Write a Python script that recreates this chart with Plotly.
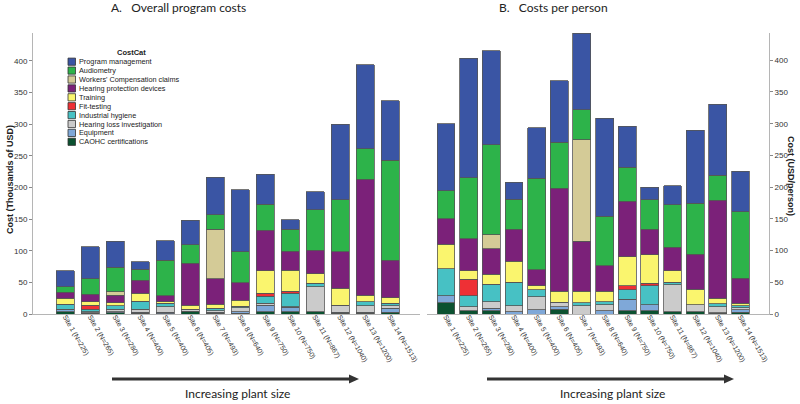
import plotly.graph_objects as go

sites = ["Site 1 (N=225)", "Site 2 (N=265)", "Site 3 (N=280)", "Site 4 (N=400)", "Site 5 (N=400)",
         "Site 6 (N=405)", "Site 7 (N=493)", "Site 8 (N=640)", "Site 9 (N=750)", "Site 10 (N=750)",
         "Site 11 (N=867)", "Site 12 (N=1040)", "Site 13 (N=1200)", "Site 14 (N=1513)"]

# stacking order, bottom to top
categories = ["CAOHC certifications", "Equipment", "Hearing loss investigation", "Industrial hygiene",
              "Fit-testing", "Training", "Hearing protection devices", "Workers' Compensation claims",
              "Audiometry", "Program management"]
colors = ["#0b5130", "#7fa8d8", "#cbcbcb", "#47c1c4", "#ee3035", "#faf56e", "#7b2179", "#d4cb97",
          "#2db34a", "#3a55a4"]

# A. overall program costs (thousands of USD)
total_caohc = [3.7, 1, 2, 1, 0.6, 3.7, 1.5, 1.5, 3.7, 3.7, 3.7, 1.3, 1.3, 2.6]
total_equipment = [3.7, 1, 1.7, 1.6, 2, 1, 1, 2.2, 10.5, 6.8, 0, 1.3, 1.3, 6.4]
total_hearing_loss = [0, 1.7, 3.7, 4.8, 9, 3.2, 3, 6.3, 2.8, 1.1, 39.3, 11.6, 10.4, 4]
total_hygiene = [8.4, 4, 5.8, 13.1, 5.2, 0, 3.5, 2.6, 11.4, 21, 5.4, 0, 6.5, 4]
total_fit = [0, 6.5, 0, 0, 0, 0, 0, 0, 4.2, 3.7, 0, 0, 0, 0]
total_training = [9, 5.3, 4.7, 12.2, 2.7, 6.3, 6.8, 9.4, 35.4, 33.2, 15.6, 26.3, 10.5, 9]
total_hpd = [9.5, 12, 12, 21, 9, 66, 40, 27.5, 64.5, 30, 36.5, 57.5, 183, 59]
total_comp = [0, 0, 5.5, 0, 0, 0, 78, 0, 0, 0, 0, 0, 0, 0]
total_audiometry = [9, 24.5, 38.4, 17.3, 56.6, 29, 23, 49, 41, 34.5, 64.5, 82.5, 48, 158]
total_management = [25, 50, 41, 11.7, 31, 39, 59, 98, 47, 15, 28, 119.5, 133, 94]

# B. costs per person (USD/person)
person_caohc = [18, 5.3, 5.3, 0, 0, 7.4, 0, 0, 5.3, 5.3, 3.7, 3.7, 1, 2.6]
person_equipment = [10.6, 0, 3.7, 3.7, 6.4, 4.3, 0, 5.3, 17.7, 9, 0, 0, 1, 3.8]
person_hearing_loss = [0, 6.4, 10.6, 9, 21.1, 6.8, 13, 9, 0, 0, 42.3, 10.6, 9.7, 3.6]
person_hygiene = [42.4, 16.9, 27.4, 37.1, 10.5, 0, 5, 5.3, 15, 30.2, 4, 0, 4.3, 2.7]
person_fit = [0, 26.4, 0, 0, 0, 0, 0, 0, 6.5, 4.3, 0, 0, 0, 0]
person_training = [38.7, 13.4, 16, 33.2, 6.5, 17, 17.5, 16, 45.5, 45, 18.4, 24.7, 9, 4.3]
person_hpd = [40.3, 50.6, 39.8, 50.5, 25.5, 162.5, 79.5, 40.7, 87.5, 39.7, 36.6, 55, 154, 39.7]
person_comp = [0, 0, 22.2, 0, 0, 0, 160, 0, 0, 0, 0, 0, 0, 0]
person_audiometry = [44, 95.6, 142, 47.2, 144, 73, 46.7, 77.7, 54.1, 46.5, 67, 81, 40, 104.9]
person_management = [106, 188.4, 148, 27.3, 79.6, 97, 120.8, 155, 64.4, 20, 30, 115, 111.7, 63.1]

total_series = [total_caohc, total_equipment, total_hearing_loss, total_hygiene, total_fit,
                total_training, total_hpd, total_comp, total_audiometry, total_management]
person_series = [person_caohc, person_equipment, person_hearing_loss, person_hygiene, person_fit,
                 person_training, person_hpd, person_comp, person_audiometry, person_management]

W, H = 800, 404

def px(x):
    return x / W

def py(y):
    return 1 - y / H

pos = list(range(len(sites)))
fig = go.Figure()
for name, col, a, b in zip(categories, colors, total_series, person_series):
    fig.add_trace(go.Bar(x=pos, y=a, name=name, marker_color=col, width=0.72,
                         marker_line=dict(color="#555555", width=0.8),
                         xaxis="x", yaxis="y", showlegend=False))
    fig.add_trace(go.Bar(x=pos, y=b, name=name, marker_color=col, width=0.79,
                         marker_line=dict(color="#555555", width=0.8),
                         xaxis="x2", yaxis="y2", showlegend=False))

axis_common = dict(showgrid=False, zeroline=False, showline=True, linecolor="#b5b5b5", linewidth=1)
ydom = [py(314), py(33)]
fig.update_layout(
    width=W, height=H, barmode="stack", showlegend=False,
    margin=dict(l=0, r=0, t=0, b=0),
    paper_bgcolor="white", plot_bgcolor="white",
    font=dict(family="Liberation Sans, Arial", color="#333333"),
    xaxis=dict(domain=[px(33), px(420)], range=[-1.3, 14.2], tickvals=pos, ticktext=sites,
               tickangle=60, tickfont=dict(size=7), ticks="", anchor="y", automargin=False,
               ticklabelstandoff=-5, **axis_common),
    yaxis=dict(domain=ydom, range=[0, 444], dtick=50, ticks="outside", ticklen=3,
               tickcolor="#888888", tickfont=dict(size=8), anchor="x", automargin=False,
               **axis_common),
    xaxis2=dict(domain=[px(427), px(769)], range=[-0.84, 14.26], tickvals=pos, ticktext=sites,
                tickangle=60, tickfont=dict(size=7), ticks="", anchor="y2", automargin=False,
                ticklabelstandoff=-5, **axis_common),
    yaxis2=dict(domain=ydom, range=[0, 443], dtick=50, ticks="outside", ticklen=3, side="right",
                tickcolor="#888888", tickfont=dict(size=8), anchor="x2", automargin=False,
                **axis_common),
)

ann = [
    dict(text="A.&nbsp;&nbsp; Overall program costs", x=px(178), y=py(7),
         font=dict(family="Lato", size=12, color="#222222")),
    dict(text="B.&nbsp;&nbsp; Costs per person", x=px(553), y=py(7),
         font=dict(family="Lato", size=12, color="#222222")),
    dict(text="<b>Cost (Thousands of USD)</b>", x=px(10), y=py(180), textangle=-90,
         font=dict(size=9, color="#222222")),
    dict(text="<b>Cost (USD/person)</b>", x=px(791), y=py(176), textangle=90,
         font=dict(size=9, color="#222222")),
    dict(text="Increasing plant size", x=px(237), y=py(393),
         font=dict(family="Lato", size=12, color="#222222")),
    dict(text="Increasing plant size", x=px(612), y=py(393),
         font=dict(family="Lato", size=12, color="#222222")),
    dict(text="<b>CostCat</b>", x=px(131), y=py(52), font=dict(size=7.5, color="#222222")),
]
for a in ann:
    a.update(xref="paper", yref="paper", showarrow=False, xanchor="center", yanchor="middle")
    fig.add_annotation(**a)

# legend drawn by hand (top entry first)
shapes = []
for i, (name, col) in enumerate(zip(categories[::-1], colors[::-1])):
    yc = 61.7 + i * 8.9
    shapes.append(dict(type="rect", xref="paper", yref="paper", x0=px(68), x1=px(75.5),
                       y0=py(yc + 3.6), y1=py(yc - 3.6), fillcolor=col,
                       line=dict(color="#333333", width=0.8)))
    fig.add_annotation(text=name, x=px(76.5), y=py(yc), xref="paper", yref="paper",
                       xanchor="left", yanchor="middle", showarrow=False,
                       font=dict(size=7.3, color="#1a1a1a"))

# arrows under each panel
for x0, x1 in [(112, 350), (487, 725)]:
    shapes.append(dict(type="line", xref="paper", yref="paper", x0=px(x0), x1=px(x1),
                       y0=py(379), y1=py(379), line=dict(color="#333333", width=3)))
    shapes.append(dict(type="path", xref="paper", yref="paper",
                       path=f"M {px(x1 - 1)} {py(374.5)} L {px(x1 + 9)} {py(379)} L {px(x1 - 1)} {py(383.5)} Z",
                       fillcolor="#333333", line=dict(width=0)))
fig.update_layout(shapes=shapes)

# drop the default page margin so the figure sits at the window's corner
fig.write_html("out.html", config={"displayModeBar": False},
               post_script="document.body.style.margin = '0';")
